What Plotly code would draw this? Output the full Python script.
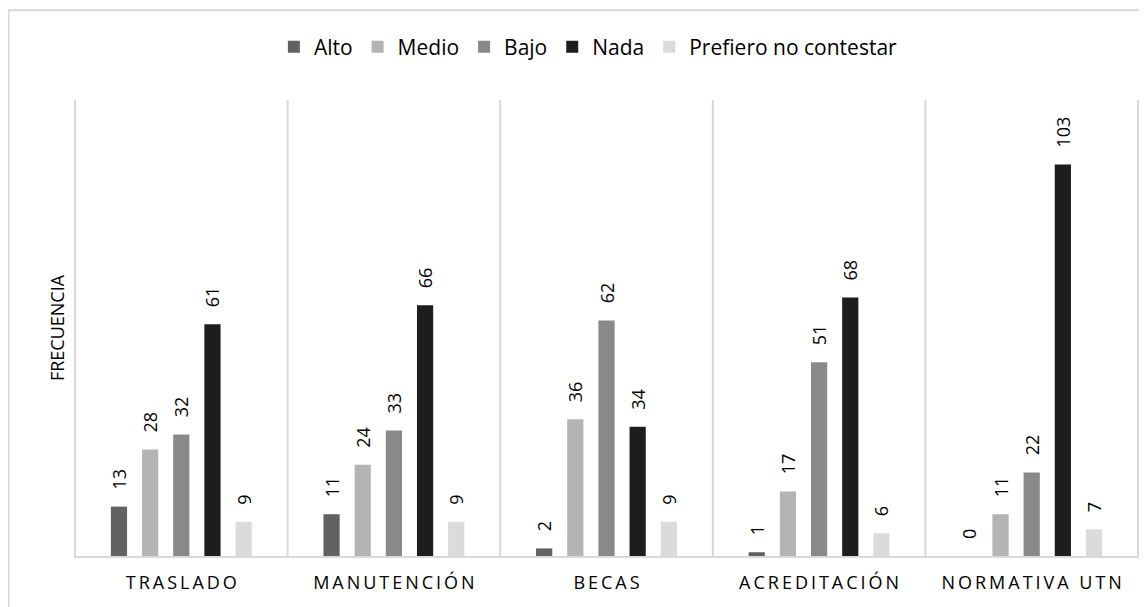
import plotly.graph_objects as go

# Data
categorias = ['TRASLADO', 'MANUTENCIÓN', 'BECAS', 'ACREDITACIÓN', 'NORMATIVA UTN']
series     = ['Alto', 'Medio', 'Bajo', 'Nada', 'Prefiero no contestar']
alto       = [13, 11, 2, 1, 0]
medio      = [28, 24, 36, 17, 11]
bajo       = [32, 33, 62, 51, 22]
nada       = [61, 66, 34, 68, 103]
prefiero   = [9, 9, 9, 6, 7]

valores = [alto, medio, bajo, nada, prefiero]
colores = ['#626262', '#b4b4b4', '#898989', '#1d1d1d', '#dbdbdb']

# letter-spaced category labels
def Espaciar(texto):
    sp = '\u2009'
    palabras = [sp.join(p) for p in texto.split(' ')]
    return (sp + ' ' + sp).join(palabras)

ticktexto = [Espaciar(c) for c in categorias]

fig = go.Figure()

for nombre, vals, color in zip(series, valores, colores):
    fig.add_trace(go.Bar(
        x=categorias, y=vals, name=nombre, marker_color=color, marker_line_width=0,
        text=['\u00a0\u00a0\u00a0' + str(v) for v in vals], textposition='outside', textangle=-90,
        textfont=dict(size=18, color='#000000'), constraintext='none', cliponaxis=False))

# category dividers
for i in range(len(categorias) + 1):
    fig.add_shape(type='line', xref='x', yref='paper', x0=i - 0.5, x1=i - 0.5, y0=0, y1=1,
                  line=dict(color='#d9d9d9', width=2))

# outer chart border (cropped on right and bottom)
fig.add_shape(type='rect', xref='paper', yref='paper', x0=-0.0615, x1=1.1, y0=-0.3, y1=1.197,
              line=dict(color='#d9d9d9', width=2))

fig.update_layout(
    width=1139, height=599,
    margin=dict(l=66, r=8, t=92, b=51),
    paper_bgcolor='white', plot_bgcolor='white',
    font=dict(family='Open Sans', color='#000000'),
    barmode='group', bargap=0.267, bargroupgap=0.48,
    showlegend=True,
    legend=dict(orientation='h', x=0.483, xanchor='center', y=1.116, yanchor='middle',
                font=dict(size=21), traceorder='normal'),
    xaxis=dict(tickmode='array', tickvals=categorias, ticktext=ticktexto, ticks='',
               tickfont=dict(size=18), showline=True, linecolor='#d9d9d9', linewidth=2,
               showgrid=False, ticklabelstandoff=9, automargin=False),
    yaxis=dict(range=[0, 120], showticklabels=False, showgrid=False, zeroline=False,
               title=dict(text='FRECUENCIA', font=dict(size=18), standoff=3), automargin=False),
)

fig.write_html("out.html")
